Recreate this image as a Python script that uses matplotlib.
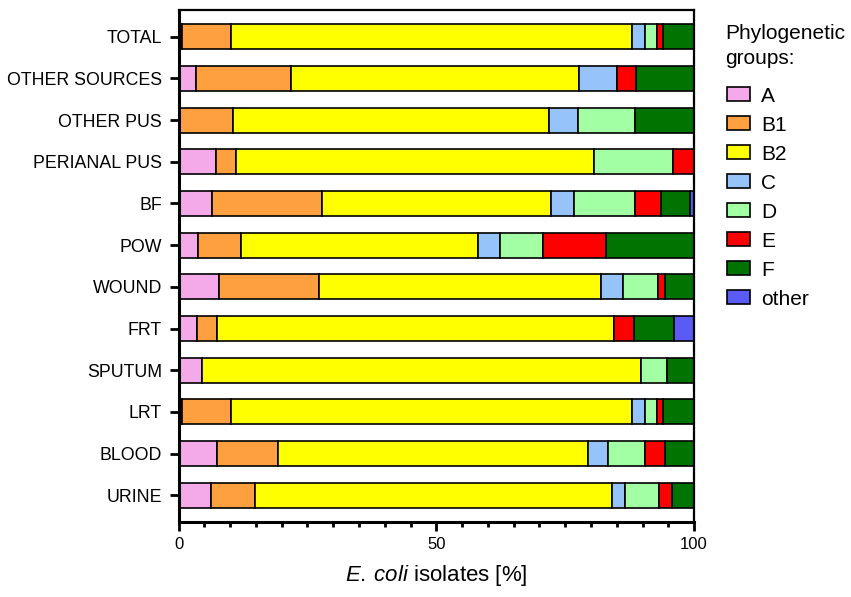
import numpy as np
import matplotlib
matplotlib.use("Agg")
import matplotlib.pyplot as plt
from matplotlib.patches import Patch
from matplotlib.ticker import MultipleLocator

plt.rcParams["font.family"] = ["Liberation Sans", "DejaVu Sans"]
plt.rcParams["mathtext.fontset"] = "custom"
plt.rcParams["mathtext.rm"] = "Liberation Sans"
plt.rcParams["mathtext.it"] = "Liberation Sans:italic"

# ── Data (percent of isolates per phylogroup) ────────────────────────────────
sources = ["TOTAL", "OTHER SOURCES", "OTHER PUS", "PERIANAL PUS", "BF", "POW",
           "WOUND", "FRT", "SPUTUM", "LRT", "BLOOD", "URINE"]
grp_A     = [0.7, 3.3, 0.0, 7.3, 6.5, 3.8, 7.8, 3.5, 4.6, 0.7, 7.4, 6.2]
grp_B1    = [9.5, 18.6, 10.65, 3.8, 21.3, 8.4, 19.4, 3.9, 0.0, 9.5, 11.9, 8.7]
grp_B2    = [77.8, 55.7, 61.3, 69.4, 44.5, 45.9, 54.8, 77.0, 85.1, 77.8, 60.2, 69.2]
grp_C     = [2.4, 7.4, 5.6, 0.0, 4.4, 4.2, 4.2, 0.0, 0.0, 2.4, 3.9, 2.5]
grp_D     = [2.4, 0.0, 11.0, 15.5, 11.9, 8.4, 6.8, 0.0, 5.0, 2.4, 7.0, 6.6]
grp_E     = [1.1, 3.8, 0.0, 4.0, 5.0, 12.3, 1.3, 3.9, 0.0, 1.1, 4.0, 2.6]
grp_F     = [6.1, 11.2, 11.4, 0.0, 5.6, 17.0, 5.7, 7.8, 5.3, 6.1, 5.6, 4.2]
grp_other = [0.0, 0.0, 0.0, 0.0, 0.8, 0.0, 0.0, 3.9, 0.0, 0.0, 0.0, 0.0]

group_names = ["A", "B1", "B2", "C", "D", "E", "F", "other"]
group_vals = [grp_A, grp_B1, grp_B2, grp_C, grp_D, grp_E, grp_F, grp_other]
colors = ["#F4AAE8", "#FFA040", "#FFFF00", "#96C3FA", "#A3FFA3",
          "#FF0000", "#007300", "#5A5AF5"]

# ── Plot ─────────────────────────────────────────────────────────────────────
fig = plt.figure(figsize=(8.51, 5.97), dpi=100)
ax = fig.add_axes([0.2098, 0.1256, 0.6058, 0.8576])

y = np.arange(len(sources))
left = np.zeros(len(sources))
for name, vals, col in zip(group_names, group_vals, colors):
    vals = np.array(vals)
    ax.barh(y, vals, left=left, height=0.6, color=col,
            edgecolor="black", linewidth=1.2, label=name)
    left += vals

ax.set_xlim(0, 100)
ax.set_ylim(len(sources) - 0.36, -0.64)
ax.set_yticks(y)
ax.set_yticklabels(sources, fontsize=12.8)
ax.set_xticks([0, 50, 100])
ax.xaxis.set_minor_locator(MultipleLocator(5))
ax.tick_params(axis="x", labelsize=12, length=6.5, width=2, pad=4)
ax.tick_params(axis="x", which="minor", length=3.6, width=2)
ax.tick_params(axis="y", length=6.5, width=2, pad=5.5)

for side in ["left", "bottom"]:
    ax.spines[side].set_linewidth(2.2)
for side in ["top", "right"]:
    ax.spines[side].set_linewidth(1.6)

ax.set_xlabel(r"$\it{E.}\hspace{0.22}\it{coli}$ isolates [%]", fontsize=16, labelpad=8)

# legend: title as its own text so the gap to the entries can be set
fig.text(0.852, 0.923, "Phylogenetic\ngroups:", fontsize=15,
         ha="left", va="center", linespacing=1.45)
handles = [Patch(facecolor=c, edgecolor="black", linewidth=1.2) for c in colors]
leg = fig.legend(handles, group_names, loc="upper left",
                 bbox_to_anchor=(0.8443, 0.869), frameon=False, fontsize=15,
                 handlelength=1.1, handleheight=0.63,
                 handletextpad=0.55, labelspacing=0.48, borderaxespad=0)

fig.savefig("out.png", dpi=100)
